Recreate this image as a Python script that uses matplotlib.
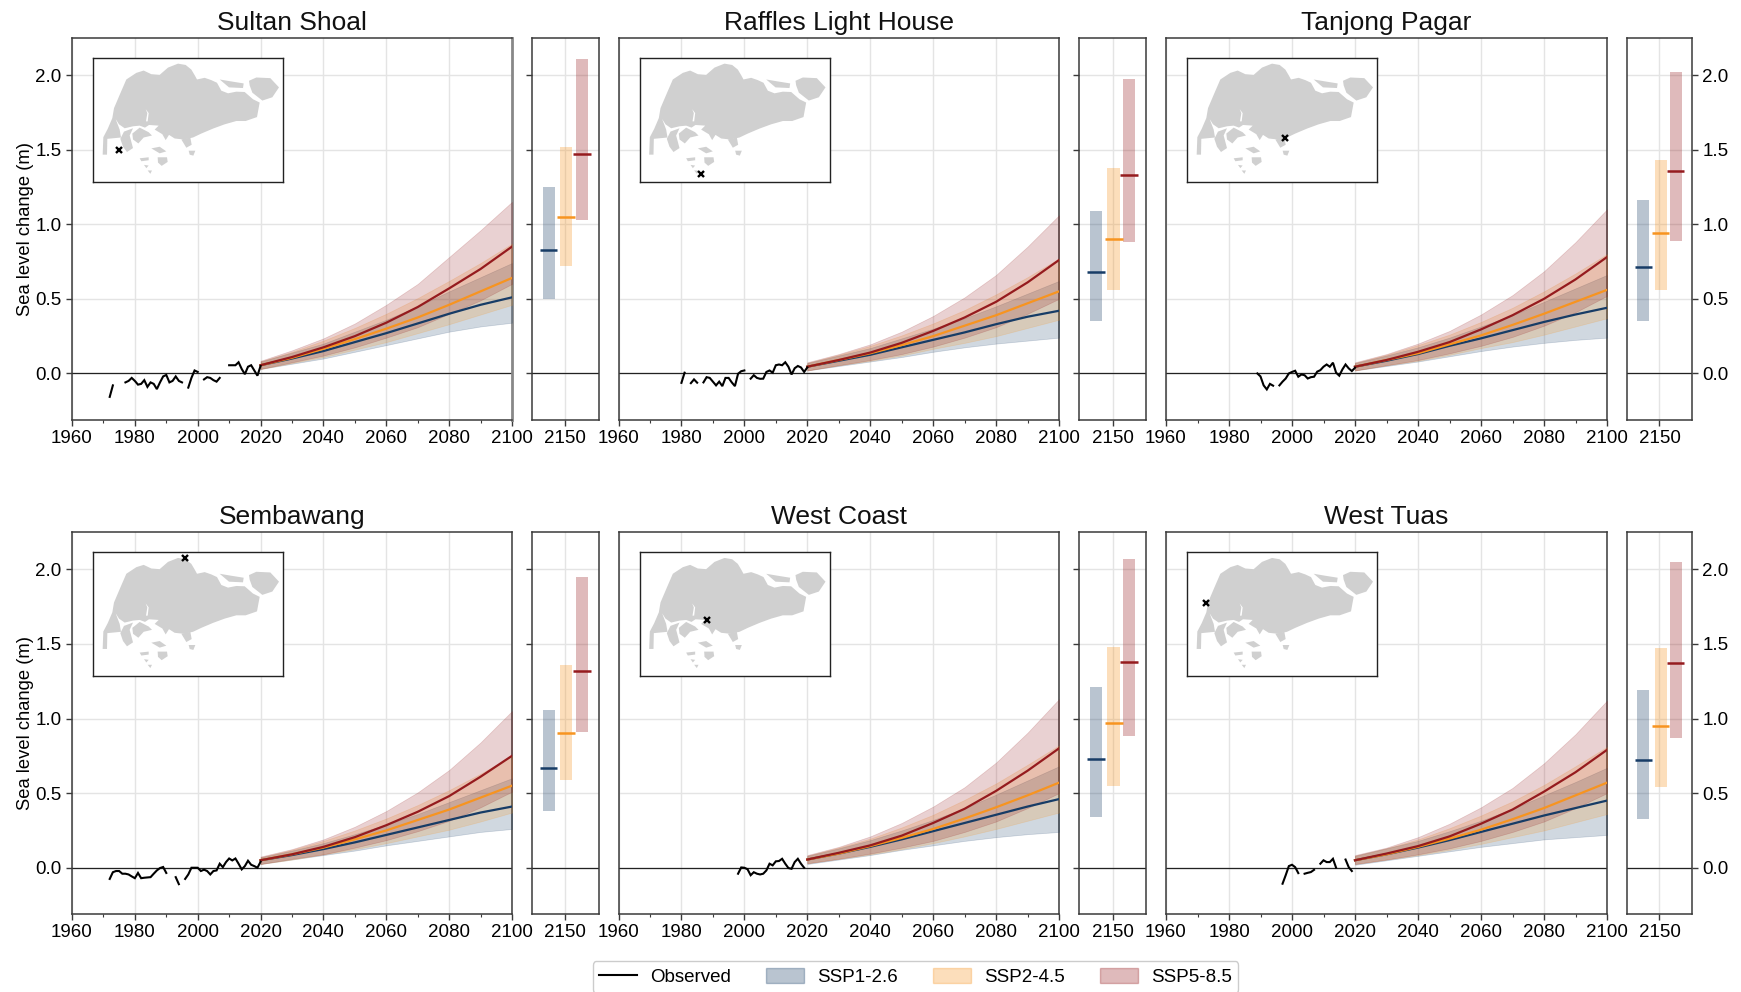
import numpy as np
import matplotlib
matplotlib.use("Agg")
import matplotlib.pyplot as plt
from matplotlib.patches import Patch, Polygon
from matplotlib.lines import Line2D
from matplotlib.ticker import MultipleLocator

plt.rcParams['font.family'] = ['Liberation Sans', 'DejaVu Sans']

W, H = 1741, 992
NAN = float('nan')

SCENARIOS = ['SSP1-2.6', 'SSP2-4.5', 'SSP5-8.5']
COLORS = ['#173c66', '#f79420', '#951b1e']
PROJ_YEARS = [2020, 2030, 2040, 2050, 2060, 2070, 2080, 2090, 2100]

# ---- projections: median / low / high per site and scenario
SULTAN_S1 = [.055, .10, .15, .21, .27, .335, .40, .46, .51]
SULTAN_S1_LO = [.03, .065, .10, .145, .19, .235, .28, .315, .34]
SULTAN_S1_HI = [.08, .14, .20, .28, .36, .45, .55, .645, .74]
SULTAN_S2 = [.055, .105, .165, .23, .30, .375, .46, .55, .64]
SULTAN_S2_LO = [.03, .07, .11, .16, .21, .27, .33, .395, .46]
SULTAN_S2_HI = [.08, .145, .22, .305, .40, .505, .62, .74, .87]
SULTAN_S5 = [.055, .11, .175, .25, .34, .445, .57, .70, .85]
SULTAN_S5_LO = [.03, .075, .12, .175, .24, .31, .40, .49, .60]
SULTAN_S5_HI = [.085, .155, .235, .335, .46, .60, .78, .96, 1.15]

RAFFLES_S1 = [.045, .085, .125, .175, .225, .275, .33, .38, .42]
RAFFLES_S1_LO = [.02, .05, .08, .11, .145, .175, .20, .22, .24]
RAFFLES_S1_HI = [.07, .12, .17, .235, .30, .37, .45, .535, .62]
RAFFLES_S2 = [.045, .09, .135, .19, .25, .32, .39, .47, .55]
RAFFLES_S2_LO = [.02, .055, .085, .12, .165, .205, .25, .305, .36]
RAFFLES_S2_HI = [.07, .125, .185, .255, .335, .425, .53, .645, .77]
RAFFLES_S5 = [.045, .09, .14, .205, .285, .375, .48, .61, .76]
RAFFLES_S5_LO = [.02, .055, .09, .13, .18, .24, .31, .40, .50]
RAFFLES_S5_HI = [.075, .13, .195, .28, .385, .51, .66, .85, 1.06]

TANJONG_S1 = [.045, .085, .13, .185, .235, .29, .345, .395, .44]
TANJONG_S1_LO = [.02, .05, .08, .115, .15, .18, .205, .225, .24]
TANJONG_S1_HI = [.07, .12, .175, .24, .315, .39, .48, .57, .66]
TANJONG_S2 = [.045, .09, .135, .195, .255, .325, .40, .48, .56]
TANJONG_S2_LO = [.02, .055, .085, .125, .17, .21, .26, .315, .37]
TANJONG_S2_HI = [.07, .125, .19, .26, .345, .44, .55, .67, .80]
TANJONG_S5 = [.045, .09, .145, .21, .295, .39, .50, .63, .78]
TANJONG_S5_LO = [.02, .055, .09, .135, .185, .245, .32, .41, .52]
TANJONG_S5_HI = [.075, .13, .20, .285, .395, .525, .685, .88, 1.10]

SEMBAWANG_S1 = [.05, .085, .125, .17, .22, .27, .32, .37, .41]
SEMBAWANG_S1_LO = [.025, .055, .085, .115, .15, .18, .21, .24, .26]
SEMBAWANG_S1_HI = [.07, .115, .165, .225, .29, .36, .44, .52, .60]
SEMBAWANG_S2 = [.05, .09, .135, .19, .25, .32, .39, .47, .55]
SEMBAWANG_S2_LO = [.025, .055, .09, .125, .165, .21, .255, .31, .37]
SEMBAWANG_S2_HI = [.07, .12, .18, .25, .33, .42, .52, .63, .75]
SEMBAWANG_S5 = [.05, .09, .14, .205, .285, .375, .48, .61, .75]
SEMBAWANG_S5_LO = [.025, .06, .09, .135, .185, .245, .315, .405, .51]
SEMBAWANG_S5_HI = [.075, .125, .19, .275, .38, .505, .655, .84, 1.05]

WCOAST_S1 = [.055, .095, .14, .19, .245, .30, .355, .41, .46]
WCOAST_S1_LO = [.025, .055, .085, .12, .15, .18, .205, .225, .24]
WCOAST_S1_HI = [.08, .13, .185, .25, .32, .40, .49, .585, .68]
WCOAST_S2 = [.055, .095, .145, .20, .26, .33, .405, .485, .57]
WCOAST_S2_LO = [.03, .06, .09, .125, .165, .21, .26, .315, .37]
WCOAST_S2_HI = [.08, .135, .195, .27, .355, .455, .565, .69, .82]
WCOAST_S5 = [.055, .10, .15, .215, .30, .395, .515, .65, .80]
WCOAST_S5_LO = [.03, .06, .095, .135, .18, .24, .31, .40, .50]
WCOAST_S5_HI = [.085, .14, .21, .30, .41, .54, .705, .905, 1.13]

WTUAS_S1 = [.05, .09, .135, .185, .24, .295, .35, .40, .45]
WTUAS_S1_LO = [.02, .05, .08, .11, .14, .165, .19, .205, .22]
WTUAS_S1_HI = [.08, .13, .18, .245, .315, .395, .485, .575, .67]
WTUAS_S2 = [.05, .09, .14, .195, .255, .325, .40, .485, .57]
WTUAS_S2_LO = [.025, .055, .085, .12, .16, .205, .25, .305, .36]
WTUAS_S2_HI = [.08, .13, .19, .265, .35, .445, .555, .68, .81]
WTUAS_S5 = [.05, .095, .145, .21, .295, .39, .51, .64, .79]
WTUAS_S5_LO = [.025, .055, .09, .13, .18, .24, .31, .40, .50]
WTUAS_S5_HI = [.085, .135, .205, .295, .405, .535, .70, .895, 1.12]

# ---- observed annual series (NaN = gap)
SULTAN_OBS_Y = [1972, 1973, 1974, 1977, 1978, 1979, 1980, 1981, 1982, 1983, 1984, 1985, 1986, 1987, 1988, 1989,
                1990, 1991, 1992, 1993, 1994, 1995, 1996, 1997, 1998, 1999, 2000, 2001, 2002, 2003, 2004, 2005,
                2006, 2007, 2008, 2010, 2011, 2012, 2013, 2014, 2015, 2016, 2017, 2018, 2019, 2020]
SULTAN_OBS = [-.157, -.08, NAN, -.06, -.05, -.03, -.05, -.075, -.07, -.045, -.09, -.06, -.07, -.105, -.06, -.02,
              -.01, -.06, -.05, -.02, -.05, -.06, NAN, -.095, -.03, .02, .01, NAN, -.04, -.025, -.03, -.045,
              -.055, -.03, NAN, .055, .055, .055, .075, .03, -.005, .045, .055, .02, -.015, .05]

RAFFLES_OBS_Y = [1980, 1981, 1982, 1983, 1984, 1985, 1986, 1987, 1988, 1989, 1990, 1991, 1992, 1993, 1994, 1995,
                 1996, 1997, 1998, 1999, 2000, 2001, 2002, 2003, 2004, 2005, 2006, 2007, 2008, 2009, 2010, 2011,
                 2012, 2013, 2014, 2015, 2016, 2017, 2018, 2019, 2020]
RAFFLES_OBS = [-.063, .005, NAN, -.065, -.04, -.062, NAN, -.06, -.025, -.03, -.055, -.08, -.055, -.085, -.03, -.03,
               -.06, -.085, -.002, .015, .02, NAN, -.035, -.012, -.03, -.036, -.035, .01, .02, .005, .055, .06,
               .055, .075, .045, -.007, .035, .05, .04, .01, .04]

TANJONG_OBS_Y = [1989, 1990, 1991, 1992, 1993, 1994, 1995, 1996, 1997, 1998, 1999, 2000, 2001, 2002, 2003, 2004,
                 2005, 2006, 2007, 2008, 2009, 2010, 2011, 2012, 2013, 2014, 2015, 2016, 2017, 2018, 2019, 2020]
TANJONG_OBS = [0.0, -.02, -.08, -.107, -.07, -.082, NAN, -.08, -.055, -.034, 0.0, .01, .018, -.022, -.007, -.012,
               -.034, -.025, -.022, .012, .022, .045, .06, .045, .072, .005, -.015, .027, .06, .034, .016, .038]

SEMBAWANG_OBS_Y = [1972, 1973, 1974, 1975, 1976, 1977, 1978, 1979, 1980, 1981, 1982, 1983, 1984, 1985, 1986, 1987,
                   1988, 1989, 1990, 1991, 1993, 1994, 1995, 1996, 1997, 1998, 1999, 2000, 2001, 2002, 2003, 2004,
                   2005, 2006, 2007, 2008, 2009, 2010, 2011, 2012, 2013, 2014, 2015, 2016, 2017, 2018, 2019, 2020]
SEMBAWANG_OBS = [-.075, -.03, -.022, -.022, -.04, -.04, -.045, -.058, -.07, -.035, -.07, -.067, -.065, -.063, -.04, -.018,
                 -.002, .005, -.035, NAN, -.063, -.11, NAN, -.075, -.045, 0.0, 0.0, 0.0, -.022, -.013, -.022, -.045,
                 -.022, -.018, .027, .004, .038, .062, .049, .062, .027, -.011, .011, .047, .02, .011, .0, .04]

WCOAST_OBS_Y = [1998, 1999, 2000, 2001, 2002, 2003, 2004, 2005, 2006, 2007, 2008, 2009, 2010, 2011, 2012, 2013,
                2014, 2015, 2016, 2017, 2018, 2019]
WCOAST_OBS = [-.04, .002, 0.0, -.01, -.05, -.03, -.04, -.045, -.04, -.018, .027, .016, .043, .045, .06, .027,
              -.002, -.007, .038, .06, .027, 0.0]

WTUAS_OBS_Y = [1997, 1998, 1999, 2000, 2001, 2002, 2003, 2004, 2005, 2006, 2007, 2008, 2009, 2010, 2011, 2012,
               2013, 2014, 2015, 2016, 2017, 2018, 2019]
WTUAS_OBS = [-.107, -.05, .011, .02, .004, -.036, NAN, -.04, -.034, -.029, -.014, NAN, .027, .05, .038, .038,
             .06, .0, NAN, NAN, .055, .004, -.022]

# ---- values at the far end of the projections (low, median, high per scenario)
SIDE_X = [2135, 2151, 2165]
SULTAN_END = [(.50, .83, 1.25), (.72, 1.05, 1.52), (1.03, 1.47, 2.11)]
RAFFLES_END = [(.35, .68, 1.09), (.56, .90, 1.38), (.88, 1.33, 1.97)]
TANJONG_END = [(.35, .71, 1.16), (.56, .94, 1.43), (.89, 1.36, 2.02)]
SEMBAWANG_END = [(.38, .67, 1.06), (.59, .90, 1.36), (.91, 1.32, 1.95)]
WCOAST_END = [(.34, .73, 1.21), (.55, .97, 1.48), (.88, 1.38, 2.07)]
WTUAS_END = [(.33, .72, 1.19), (.54, .95, 1.47), (.87, 1.37, 2.05)]

# ---- Singapore outline in inset map units
MAP_MAIN = [(295, 40), (318, 44), (335, 58), (345, 75), (352, 88), (375, 83), (395, 90), (412, 98), (425, 122),
            (445, 130), (470, 125), (495, 126), (520, 148), (540, 158), (532, 202), (515, 208), (498, 214),
            (470, 214), (435, 224), (400, 237), (365, 252), (340, 264), (312, 270), (285, 267), (268, 256),
            (258, 272), (248, 254), (225, 240), (237, 228), (208, 226), (196, 234), (180, 228), (160, 230),
            (135, 236), (118, 224), (108, 208), (120, 240), (124, 264), (83, 268), (82, 316), (69, 316),
            (71, 263), (84, 238), (98, 205), (103, 175), (122, 130), (140, 88), (170, 68), (192, 61),
            (215, 72), (240, 74), (265, 52)]
MAP_ISLANDS = [
    [(122, 268), (133, 246), (160, 236), (150, 258), (160, 296), (142, 308), (130, 292)],
    [(158, 252), (180, 234), (207, 248), (217, 258), (192, 264), (176, 282), (160, 270)],
    [(420, 88), (455, 94), (492, 100), (490, 114), (448, 112)],
    [(508, 92), (530, 82), (572, 84), (598, 112), (578, 142), (548, 152), (518, 128), (510, 106)],
    [(215, 297), (240, 292), (260, 306), (240, 312)],
    [(234, 324), (262, 324), (264, 338), (246, 350), (235, 340)],
    [(180, 327), (207, 324), (207, 333), (185, 336)],
    [(193, 347), (207, 349), (200, 357)],
    [(204, 364), (217, 364), (212, 374)],
    [(305, 270), (332, 264), (336, 286), (320, 295)],
    [(327, 304), (347, 304), (341, 319), (330, 316)],
]
MAP_CREEK = [(198, 178), (207, 190), (204, 215), (199, 215), (203, 190)]

# name, observed years, observed values, projection bundle, side bars, site position on the map
SITES = [
    ('Sultan Shoal', SULTAN_OBS_Y, SULTAN_OBS,
     [(SULTAN_S1, SULTAN_S1_LO, SULTAN_S1_HI), (SULTAN_S2, SULTAN_S2_LO, SULTAN_S2_HI), (SULTAN_S5, SULTAN_S5_LO, SULTAN_S5_HI)],
     SULTAN_END, (117, 301)),
    ('Raffles Light House', RAFFLES_OBS_Y, RAFFLES_OBS,
     [(RAFFLES_S1, RAFFLES_S1_LO, RAFFLES_S1_HI), (RAFFLES_S2, RAFFLES_S2_LO, RAFFLES_S2_HI), (RAFFLES_S5, RAFFLES_S5_LO, RAFFLES_S5_HI)],
     RAFFLES_END, (223, 375)),
    ('Tanjong Pagar', TANJONG_OBS_Y, TANJONG_OBS,
     [(TANJONG_S1, TANJONG_S1_LO, TANJONG_S1_HI), (TANJONG_S2, TANJONG_S2_LO, TANJONG_S2_HI), (TANJONG_S5, TANJONG_S5_LO, TANJONG_S5_HI)],
     TANJONG_END, (333, 264)),
    ('Sembawang', SEMBAWANG_OBS_Y, SEMBAWANG_OBS,
     [(SEMBAWANG_S1, SEMBAWANG_S1_LO, SEMBAWANG_S1_HI), (SEMBAWANG_S2, SEMBAWANG_S2_LO, SEMBAWANG_S2_HI), (SEMBAWANG_S5, SEMBAWANG_S5_LO, SEMBAWANG_S5_HI)],
     SEMBAWANG_END, (316, 39)),
    ('West Coast', WCOAST_OBS_Y, WCOAST_OBS,
     [(WCOAST_S1, WCOAST_S1_LO, WCOAST_S1_HI), (WCOAST_S2, WCOAST_S2_LO, WCOAST_S2_HI), (WCOAST_S5, WCOAST_S5_LO, WCOAST_S5_HI)],
     WCOAST_END, (243, 227)),
    ('West Tuas', WTUAS_OBS_Y, WTUAS_OBS,
     [(WTUAS_S1, WTUAS_S1_LO, WTUAS_S1_HI), (WTUAS_S2, WTUAS_S2_LO, WTUAS_S2_HI), (WTUAS_S5, WTUAS_S5_LO, WTUAS_S5_HI)],
     WTUAS_END, (97, 177)),
]

YLIM = (-0.31, 2.25)
SPINE = '#3a3a3a'
GRID = '#e4e4e4'
COLS = [(72, 512, 532, 598.5), (618.5, 1059, 1079, 1146), (1166, 1607, 1627, 1692)]
ROWS = [(37.7, 419.7), (532, 914)]


def px_axes(fig, x0, x1, y0, y1):
    return fig.add_axes([x0 / W, 1 - y1 / H, (x1 - x0) / W, (y1 - y0) / H])


def style(ax):
    for s in ax.spines.values():
        s.set_color(SPINE)
        s.set_linewidth(1.1)
    ax.grid(True, which='major', color=GRID, linewidth=1.0)
    ax.set_axisbelow(True)
    ax.set_ylim(*YLIM)
    ax.yaxis.set_major_locator(MultipleLocator(0.5))
    ax.tick_params(which='major', length=4.5, width=1.0, color=SPINE, labelsize=13.5, pad=3)
    ax.axhline(0, color='#222222', lw=0.9, zorder=2)


fig = plt.figure(figsize=(W / 100, H / 100), dpi=100)

for i, (name, oy, ov, proj, end, site) in enumerate(SITES):
    r, c = divmod(i, 3)
    mx0, mx1, sx0, sx1 = COLS[c]
    y0, y1 = ROWS[r]

    ax = px_axes(fig, mx0, mx1, y0, y1)
    style(ax)
    ax.set_xlim(1960, 2100)
    ax.xaxis.set_major_locator(MultipleLocator(20))
    ax.xaxis.set_minor_locator(MultipleLocator(10))
    ax.tick_params(which='minor', axis='x', length=2.5, width=0.8, color=SPINE)
    ax.set_title(name, fontsize=19, pad=5.5, color='#111111')
    if i == 0:
        ax.spines['right'].set_color('#888888')
        ax.spines['right'].set_linewidth(2.0)
    if c == 0:
        ax.set_ylabel('Sea level change (m)', fontsize=13.2, labelpad=1)
    else:
        ax.tick_params(axis='y', labelleft=False, length=0)
    for (med, lo, hi), col in zip(proj, COLORS):
        ax.fill_between(PROJ_YEARS, lo, hi, color=col, alpha=0.2, linewidth=0.5, zorder=3)
    for (med, lo, hi), col in zip(proj, COLORS):
        ax.plot(PROJ_YEARS, med, color=col, lw=1.6, zorder=4)
    ax.plot(oy, ov, color='black', lw=1.5, zorder=5, solid_joinstyle='miter')

    side = px_axes(fig, sx0, sx1, y0, y1)
    style(side)
    side.set_xlim(2120, 2180)
    side.set_xticks([2150])
    if c == 2:
        side.yaxis.tick_right()
    else:
        side.tick_params(axis='y', labelleft=False)
    for xp, (lo, med, hi), col in zip(SIDE_X, end, COLORS):
        side.bar(xp, hi - lo, bottom=lo, width=11, color=col, alpha=0.3, linewidth=0, zorder=3)
        side.hlines(med, xp - 8, xp + 8, color=col, lw=1.8, zorder=4)

    inset = px_axes(fig, mx0 + 21, mx0 + 211, y0 + 20, y0 + 144)
    inset.set_xlim(40, 610)
    inset.set_ylim(398, 22)
    inset.set_xticks([])
    inset.set_yticks([])
    inset.set_zorder(6)
    for s in inset.spines.values():
        s.set_color('#222222')
        s.set_linewidth(1.0)
    land = '#d0d0d0'
    inset.add_patch(Polygon(MAP_MAIN, closed=True, fc=land, ec='none'))
    for isl in MAP_ISLANDS:
        inset.add_patch(Polygon(isl, closed=True, fc=land, ec='none'))
    inset.add_patch(Polygon(MAP_CREEK, closed=True, fc='white', ec='none'))
    inset.plot([site[0]], [site[1]], marker='x', color='black', ms=4, mew=1.7, ls='none', clip_on=False)

handles = [Line2D([], [], color='black', lw=1.5, label='Observed')]
for lab, col in zip(SCENARIOS, COLORS):
    handles.append(Patch(facecolor=col, edgecolor=col, alpha=0.3, label=lab))
fig.legend(handles=handles, loc='lower center', bbox_to_anchor=(915.5 / W, -0.010), ncol=4,
           fontsize=13.5, frameon=True, edgecolor='#cccccc', fancybox=True, framealpha=1,
           handlelength=2.0, handleheight=0.9, columnspacing=1.9, handletextpad=0.7, borderpad=0.35)

fig.savefig('out.png', dpi=100)
